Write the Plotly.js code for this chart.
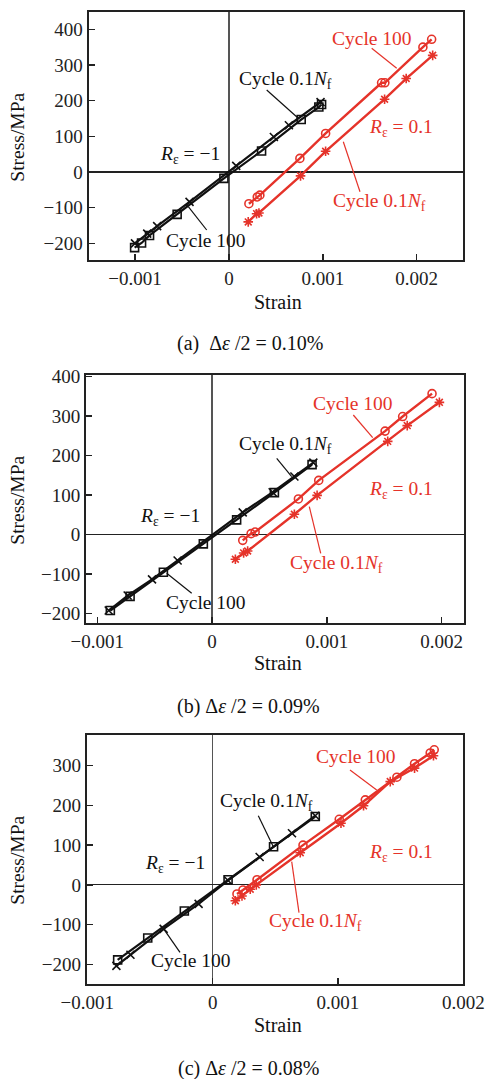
<!DOCTYPE html>
<html><head><meta charset="utf-8">
<script src="https://cdn.plot.ly/plotly-3.0.1.min.js"></script>
<style>html,body{margin:0;padding:0;background:#fff;}#plot{width:486px;height:1079px;}</style>
</head><body><div id="plot"></div>
<script>
// ---- Panel (a) Δε/2 = 0.10% ----
const aC100Rx = [0.000213,0.000302,0.00033,0.000756,0.00103,0.001626,0.001661,0.002066,0.002159];
const aC100Ry = [-89,-70,-65,38,108,250,250,350,372];
const aNfRx = [0.000206,0.000295,0.00032,0.000763,0.00103,0.001658,0.001888,0.00217];
const aNfRy = [-140,-117,-115,-11,58,204,262,327];
const aC100Kx = [-0.001004,-0.00093,-0.000845,-0.000551,-0.000053,0.000348,0.00077,0.000958,0.000987];
const aC100Ky = [-212,-199,-178,-119,-18,59,147,182,189];
const aNfKx = [-0.001,-0.00087,-0.000764,-0.000419,0.000078,0.000479,0.000639,0.000976];
const aNfKy = [-200,-173,-152,-84,17,98,131,196];
// ---- Panel (b) Δε/2 = 0.09% ----
const bC100Rx = [0.000267,0.00034,0.000375,0.000752,0.000929,0.001507,0.00166,0.001916];
const bC100Ry = [-15,2,6,90,137,262,299,357];
const bNfRx = [0.000203,0.000275,0.00031,0.000717,0.000915,0.00153,0.0017,0.00198];
const bNfRy = [-63,-47,-42,51,99,236,276,335];
const bC100Kx = [-0.000886,-0.000714,-0.000424,-0.000076,0.000214,0.000543,0.000871];
const bC100Ky = [-193,-157,-96,-24,37,106,177];
const bNfKx = [-0.0009,-0.000735,-0.000523,-0.0003,0.000267,0.000528,0.000717,0.000882];
const bNfKy = [-193,-155,-114,-66,56,107,147,182];
// ---- Panel (c) Δε/2 = 0.08% ----
const cC100Rx = [0.000194,0.000242,0.000354,0.000721,0.00101,0.001218,0.00147,0.001611,0.001736,0.001768];
const cC100Ry = [-23,-13,13,100,165,214,271,305,332,340];
const cNfRx = [0.000181,0.000234,0.0003,0.000348,0.000699,0.001024,0.001204,0.001417,0.001611,0.001762];
const cNfRy = [-40,-28,-11,0,81,155,199,260,294,325];
const cC100Kx = [-0.000758,-0.000518,-0.000226,0.000123,0.000486,0.000819];
const cC100Ky = [-189,-134,-66,13,96,172];
const cNfKx = [-0.000768,-0.000656,-0.000391,-0.000112,0.000123,0.000375,0.000633,0.000819];
const cNfKy = [-204,-176,-111,-48,11,70,130,174];

const xTickVals = [-0.001,0,0.001,0.002];
const xTickText = ['\u22120.001','0','0.001','0.002'];
const yTickVals = [-200,-100,0,100,200,300,400];
const yTickText = ['\u2212200','\u2212100','0','100','200','300','400'];
const captions = ['(a)  \u0394<i>\u03b5</i> /2 = 0.10%','(b) \u0394<i>\u03b5</i> /2 = 0.09%','(c) \u0394<i>\u03b5</i> /2 = 0.08%'];

const RED = '#e5332a', BLK = '#111';
const W = 486, H = 1079;
const FONT = 'Liberation Serif, Times New Roman, serif';
const px = v => v / W, py = v => 1 - v / H;

function series(x, y, ax, color, symbol, lw){
  return {x:x, y:y, xaxis:'x'+ax, yaxis:'y'+ax, type:'scatter', mode:'lines+markers',
    line:{color:color, width:lw},
    marker:{symbol:symbol, size:8, color:color, line:{color:color, width:1.6}},
    showlegend:false, hoverinfo:'skip'};
}
const traces = [
  series(aC100Kx,aC100Ky,'',BLK,'square-open',2.2),
  series(aNfKx,aNfKy,'',BLK,'x-thin-open',2.2),
  series(aC100Rx,aC100Ry,'',RED,'circle-open',2.4),
  series(aNfRx,aNfRy,'',RED,'asterisk-open',2.4),
  series(bC100Kx,bC100Ky,'2',BLK,'square-open',2.2),
  series(bNfKx,bNfKy,'2',BLK,'x-thin-open',2.2),
  series(bC100Rx,bC100Ry,'2',RED,'circle-open',2.4),
  series(bNfRx,bNfRy,'2',RED,'asterisk-open',2.4),
  series(cC100Kx,cC100Ky,'3',BLK,'square-open',2.2),
  series(cNfKx,cNfKy,'3',BLK,'x-thin-open',2.2),
  series(cC100Rx,cC100Ry,'3',RED,'circle-open',2.4),
  series(cNfRx,cNfRy,'3',RED,'asterisk-open',2.4),
];

function xax(domain, range, anchor){
  return {domain:domain, range:range, anchor:anchor, tickvals:xTickVals, ticktext:xTickText,
    ticks:'inside', ticklen:6, tickwidth:1.5, tickcolor:'#222',
    showline:true, mirror:true, linewidth:2, linecolor:'#222',
    zeroline:true, zerolinecolor:'#555', zerolinewidth:1.3, showgrid:false,
    tickfont:{family:FONT, size:19, color:'#222'}, fixedrange:true};
}
function yax(domain, range, anchor){
  return {domain:domain, range:range, anchor:anchor, tickvals:yTickVals, ticktext:yTickText,
    ticks:'inside', ticklen:6, tickwidth:1.5, tickcolor:'#222',
    showline:true, mirror:true, linewidth:2, linecolor:'#222',
    zeroline:true, zerolinecolor:'#222', zerolinewidth:1.2, showgrid:false,
    tickfont:{family:FONT, size:19, color:'#222'}, fixedrange:true};
}

const layout = {
  width:W, height:H, margin:{l:0,r:0,t:0,b:0}, paper_bgcolor:'#fff', plot_bgcolor:'#fff',
  showlegend:false,
  xaxis: xax([px(88.5),px(463)],[-0.001495,0.002493],'y'),
  yaxis: yax([py(260),py(12)],[-246.8,448.5],'x'),
  xaxis2: xax([px(86),px(464.3)],[-0.001098,0.002197],'y2'),
  yaxis2: yax([py(623.3),py(375)],[-225.4,404.3],'x2'),
  xaxis3: xax([px(86.7),px(463.3)],[-0.001005,0.002],'y3'),
  yaxis3: yax([py(984.3),py(735)],[-250.4,377.3],'x3'),
  annotations:[], shapes:[]
};

function txt(x,y,text,color,size,angle){
  layout.annotations.push({xref:'paper',yref:'paper',x:px(x),y:py(y),text:text,showarrow:false,
    xanchor:'center',yanchor:'middle',textangle:angle||0,
    font:{family:FONT,size:size||19.5,color:color||'#111'}});
}
function lead(x0,y0,x1,y1,color){
  layout.shapes.push({type:'line',xref:'paper',yref:'paper',x0:px(x0),y0:py(y0),x1:px(x1),y1:py(y1),
    line:{color:color,width:1.2}});
}
const NF = 'Cycle 0.1<i>N</i><sub>f</sub>';
// panel a
txt(285,80,NF,BLK); lead(266.7,90,298.3,118.3,BLK);
txt(190,155,'<i>R</i><sub>\u03b5</sub> = \u22121',BLK);
txt(205.7,240,'Cycle 100',BLK); lead(206.7,230,188.3,206.7,BLK);
txt(372,38.3,'Cycle 100',RED); lead(371.7,48.3,396.7,68.3,RED);
txt(401,128.3,'<i>R</i><sub>\u03b5</sub> = 0.1',RED);
txt(379,202.3,NF,RED); lead(360,191.7,343.3,141.7,RED);
txt(277.7,301.7,'Strain',BLK,20);
txt(16.7,137,'Stress/MPa',BLK,19.5,-90);
txt(250,343.3,captions[0],BLK,20);
// panel b
txt(285,445,NF,BLK); lead(276.7,458.3,291.7,476.7,BLK);
txt(170,516.7,'<i>R</i><sub>\u03b5</sub> = \u22121',BLK);
txt(205.7,602.3,'Cycle 100',BLK); lead(191.7,593.3,166.7,573.3,BLK);
txt(352.7,403.3,'Cycle 100',RED); lead(353.3,415,372.7,437.7,RED);
txt(401,490,'<i>R</i><sub>\u03b5</sub> = 0.1',RED);
txt(336.7,564,NF,RED); lead(320.7,553.3,309.3,506.7,RED);
txt(277.7,663.3,'Strain',BLK,20);
txt(16.7,500,'Stress/MPa',BLK,19.5,-90);
txt(248.3,706.7,captions[1],BLK,20);
// panel c
txt(266.7,801.7,NF,BLK); lead(258.3,815.7,273.3,846.7,BLK);
txt(175,864,'<i>R</i><sub>\u03b5</sub> = \u22121',BLK);
txt(190.7,960,'Cycle 100',BLK); lead(180,952.3,163.3,928.3,BLK);
txt(356,756.7,'Cycle 100',RED); lead(350,770,376.7,790,RED);
txt(401,852.7,'<i>R</i><sub>\u03b5</sub> = 0.1',RED);
txt(315,921.7,NF,RED); lead(299,912.7,291.7,861.7,RED);
txt(277.7,1025,'Strain',BLK,20);
txt(16.7,860,'Stress/MPa',BLK,19.5,-90);
txt(248.3,1068.3,captions[2],BLK,20);

Plotly.newPlot('plot', traces, layout, {staticPlot:true});
</script></body></html>
